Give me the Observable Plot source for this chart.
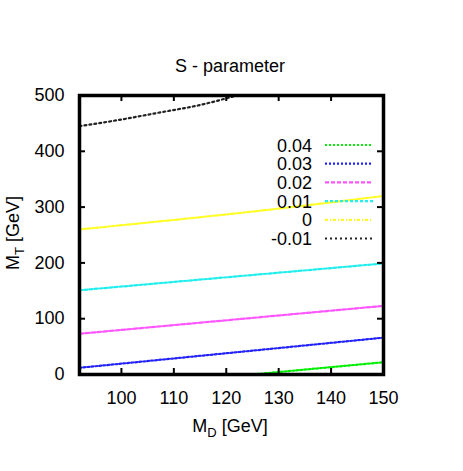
<!DOCTYPE html>
<html>
<head>
<meta charset="utf-8">
<script src="https://cdn.jsdelivr.net/npm/d3@7"></script>
<script src="https://cdn.jsdelivr.net/npm/@observablehq/plot@0.6"></script>
<style>
  html, body { margin: 0; padding: 0; background: #fff; }
  svg { display: block; }
</style>
</head>
<body>
<div id="chart"></div>
<script>
// ---- data ----
const levels = ["0.04", "0.03", "0.02", "0.01", "0", "-0.01"];
const colors = ["#00ee00", "#2222ff", "#ff55ff", "#22eeee", "#ffff22", "#222222"];
const dashes = ["2,2", "2,2", "4,2", "3,2", "3,2,1,2", "2,3"];
const md004 = [125, 150];           const mt004 = [0, 22];
const md003 = [92, 150];            const mt003 = [12, 66];
const md002 = [92, 150];            const mt002 = [73, 123];
const md001 = [92, 150];            const mt001 = [151, 199];
const md000 = [92, 110, 126, 150];  const mt000 = [260, 277, 293, 320];
const mdm001 = [92, 100, 107, 115, 122]; const mtm001 = [445, 457, 469, 483, 500];
const xTicks = [100, 110, 120, 130, 140, 150];
const yTicks = [0, 100, 200, 300, 400, 500];

const seriesMD = [md004, md003, md002, md001, md000, mdm001];
const seriesMT = [mt004, mt003, mt002, mt001, mt000, mtm001];

const W = 463, H = 471;
const mT = 95, mB = 97, mL = 79, mR = 80;
const fh = H - mT - mB, fw = W - mL - mR;
const font = "'Liberation Sans', Arial, Helvetica, sans-serif";
const fs = 18;

const lineMarks = levels.map((lv, i) =>
  Plot.line(seriesMD[i].map((x, j) => ({x, y: seriesMT[i][j]})), {
    x: "x", y: "y", stroke: colors[i], strokeWidth: 2.2,
    strokeDasharray: dashes[i], curve: "monotone-x"
  })
);

const svg = Plot.plot({
  width: W, height: H,
  marginTop: mT, marginBottom: mB, marginLeft: mL, marginRight: mR,
  style: {fontFamily: font, fontSize: fs + "px", color: "#000", background: "#fff"},
  x: {domain: [92, 150]},
  y: {domain: [0, 500]},
  marks: [
    ...lineMarks,
    Plot.tickX(xTicks, {x: d => d, insetTop: fh - 6, strokeWidth: 2}),
    Plot.tickX(xTicks, {x: d => d, insetBottom: fh - 6, strokeWidth: 2}),
    Plot.tickY(yTicks, {y: d => d, insetRight: fw - 6, strokeWidth: 2}),
    Plot.tickY(yTicks, {y: d => d, insetLeft: fw - 6, strokeWidth: 2}),
    Plot.frame({stroke: "#000", strokeWidth: 3.5}),
    Plot.axisX({ticks: xTicks, tickSize: 0, tickPadding: 17, label: null, fontSize: fs}),
    Plot.axisY({ticks: yTicks, tickSize: 0, tickPadding: 15, label: null, fontSize: fs})
  ]
});

const s = d3.select(svg);
// title
s.append("text").attr("x", 230).attr("y", 72).attr("text-anchor", "middle")
  .attr("font-family", font).attr("font-size", fs).text("S - parameter");
// x label
const xl = s.append("text").attr("x", 230).attr("y", 432).attr("text-anchor", "middle")
  .attr("font-family", font).attr("font-size", fs);
xl.append("tspan").text("M");
xl.append("tspan").attr("font-size", 13).attr("dy", 5).text("D");
xl.append("tspan").attr("dy", -5).text(" [GeV]");
// y label
const yl = s.append("text").attr("transform", "translate(19,233) rotate(-90)").attr("text-anchor", "middle")
  .attr("font-family", font).attr("font-size", fs);
yl.append("tspan").text("M");
yl.append("tspan").attr("font-size", 13).attr("dy", 5).text("T");
yl.append("tspan").attr("dy", -5).text(" [GeV]");
// legend
const lg = s.append("g");
levels.forEach((lv, i) => {
  const cy = 145 + i * 18.7;
  lg.append("text").attr("x", 312).attr("y", cy + 6.5).attr("text-anchor", "end")
    .attr("font-family", font).attr("font-size", fs).text(lv);
  lg.append("line").attr("x1", 325).attr("x2", 373).attr("y1", cy).attr("y2", cy)
    .attr("stroke", colors[i]).attr("stroke-width", 2.2).attr("stroke-dasharray", dashes[i]);
});

document.getElementById("chart").appendChild(svg);
</script>
</body>
</html>
